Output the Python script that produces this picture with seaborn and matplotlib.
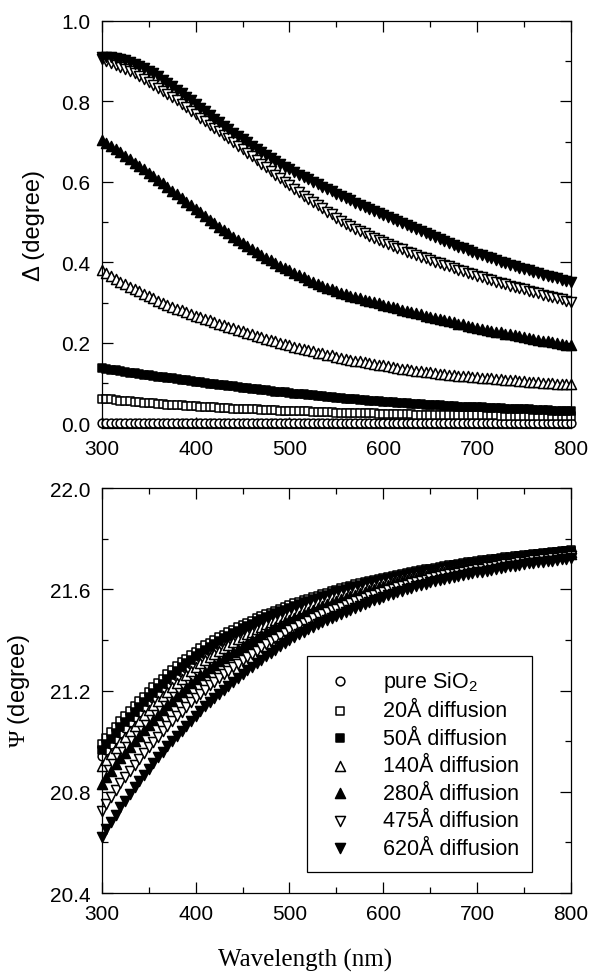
import numpy as np
import pandas as pd
import matplotlib
matplotlib.use("Agg")
import matplotlib.pyplot as plt
from matplotlib.ticker import MultipleLocator, FormatStrFormatter
import seaborn as sns

# wavelength grid of the simulated spectra (nm)
wavelength = np.arange(300, 801, 5)

series_names = ['pure SiO$_{\\mathsf{2}}$', '20Å diffusion', '50Å diffusion', '140Å diffusion',
                '280Å diffusion', '475Å diffusion', '620Å diffusion']

x_ticks = [300, 400, 500, 600, 700, 800]
delta_ticks = [0.0, 0.2, 0.4, 0.6, 0.8, 1.0]
psi_ticks = [20.4, 20.8, 21.2, 21.6, 22.0]

# Delta (degree)
delta_pure = [0.0] * len(wavelength)
delta_20 = [0.062, 0.061, 0.060, 0.058, 0.057, 0.056, 0.055, 0.054, 0.053, 0.052,
            0.051, 0.050, 0.049, 0.048, 0.047, 0.047, 0.046, 0.045, 0.044, 0.044,
            0.043, 0.042, 0.041, 0.041, 0.040, 0.039, 0.039, 0.038, 0.037, 0.037,
            0.036, 0.036, 0.035, 0.035, 0.034, 0.034, 0.033, 0.033, 0.032, 0.032,
            0.031, 0.031, 0.030, 0.030, 0.030, 0.029, 0.029, 0.028, 0.028, 0.028,
            0.027, 0.027, 0.027, 0.026, 0.026, 0.026, 0.025, 0.025, 0.025, 0.024,
            0.024, 0.024, 0.024, 0.023, 0.023, 0.023, 0.023, 0.022, 0.022, 0.022,
            0.022, 0.022, 0.021, 0.021, 0.021, 0.021, 0.021, 0.021, 0.020, 0.020,
            0.020, 0.020, 0.020, 0.020, 0.020, 0.019, 0.019, 0.019, 0.019, 0.019,
            0.019, 0.019, 0.019, 0.019, 0.018, 0.018, 0.018, 0.018, 0.018, 0.018,
            0.018]
delta_50 = [0.137, 0.135, 0.133, 0.132, 0.130, 0.128, 0.126, 0.125, 0.123, 0.121,
            0.120, 0.118, 0.116, 0.115, 0.113, 0.112, 0.110, 0.108, 0.107, 0.105,
            0.104, 0.102, 0.101, 0.099, 0.098, 0.096, 0.095, 0.093, 0.092, 0.090,
            0.089, 0.087, 0.086, 0.085, 0.083, 0.082, 0.081, 0.079, 0.078, 0.077,
            0.076, 0.074, 0.073, 0.072, 0.071, 0.070, 0.068, 0.067, 0.066, 0.065,
            0.064, 0.063, 0.062, 0.061, 0.060, 0.059, 0.058, 0.057, 0.056, 0.055,
            0.054, 0.053, 0.053, 0.052, 0.051, 0.050, 0.049, 0.049, 0.048, 0.047,
            0.046, 0.046, 0.045, 0.044, 0.044, 0.043, 0.042, 0.042, 0.041, 0.041,
            0.040, 0.040, 0.039, 0.039, 0.038, 0.038, 0.037, 0.037, 0.036, 0.036,
            0.035, 0.035, 0.034, 0.034, 0.033, 0.033, 0.032, 0.032, 0.032, 0.031,
            0.031]
delta_140 = [0.380, 0.373, 0.366, 0.359, 0.352, 0.346, 0.340, 0.334, 0.328, 0.322,
             0.316, 0.311, 0.305, 0.300, 0.295, 0.290, 0.285, 0.281, 0.276, 0.272,
             0.268, 0.264, 0.260, 0.256, 0.252, 0.248, 0.244, 0.240, 0.237, 0.233,
             0.230, 0.225, 0.221, 0.218, 0.214, 0.211, 0.207, 0.204, 0.200, 0.197,
             0.194, 0.191, 0.188, 0.185, 0.182, 0.179, 0.176, 0.174, 0.171, 0.169,
             0.166, 0.163, 0.161, 0.158, 0.156, 0.154, 0.152, 0.150, 0.148, 0.146,
             0.144, 0.142, 0.140, 0.138, 0.136, 0.135, 0.133, 0.131, 0.130, 0.128,
             0.127, 0.125, 0.124, 0.123, 0.121, 0.120, 0.119, 0.118, 0.117, 0.116,
             0.115, 0.114, 0.113, 0.112, 0.111, 0.110, 0.109, 0.108, 0.107, 0.106,
             0.105, 0.104, 0.103, 0.102, 0.101, 0.100, 0.100, 0.099, 0.098, 0.098,
             0.097]
delta_280 = [0.705, 0.697, 0.689, 0.681, 0.673, 0.665, 0.657, 0.648, 0.640, 0.631,
             0.623, 0.614, 0.605, 0.596, 0.587, 0.578, 0.569, 0.560, 0.551, 0.542,
             0.533, 0.524, 0.515, 0.506, 0.497, 0.489, 0.480, 0.472, 0.464, 0.456,
             0.448, 0.440, 0.433, 0.426, 0.419, 0.412, 0.405, 0.398, 0.392, 0.386,
             0.380, 0.374, 0.368, 0.363, 0.357, 0.352, 0.347, 0.342, 0.337, 0.333,
             0.329, 0.325, 0.321, 0.317, 0.314, 0.311, 0.307, 0.304, 0.301, 0.298,
             0.295, 0.292, 0.289, 0.286, 0.283, 0.280, 0.277, 0.274, 0.271, 0.268,
             0.265, 0.262, 0.259, 0.257, 0.254, 0.251, 0.248, 0.246, 0.243, 0.240,
             0.238, 0.235, 0.233, 0.230, 0.228, 0.226, 0.223, 0.221, 0.219, 0.217,
             0.214, 0.212, 0.210, 0.208, 0.206, 0.204, 0.202, 0.200, 0.198, 0.196,
             0.194]
delta_475 = [0.905, 0.901, 0.896, 0.891, 0.886, 0.881, 0.875, 0.869, 0.862, 0.855,
             0.848, 0.841, 0.834, 0.826, 0.818, 0.810, 0.802, 0.793, 0.785, 0.776,
             0.768, 0.759, 0.751, 0.742, 0.734, 0.725, 0.717, 0.708, 0.699, 0.690,
             0.681, 0.672, 0.663, 0.654, 0.645, 0.636, 0.627, 0.618, 0.609, 0.600,
             0.591, 0.582, 0.574, 0.566, 0.558, 0.550, 0.542, 0.534, 0.526, 0.519,
             0.510, 0.503, 0.496, 0.490, 0.484, 0.478, 0.472, 0.466, 0.461, 0.456,
             0.451, 0.446, 0.441, 0.436, 0.432, 0.427, 0.423, 0.418, 0.414, 0.410,
             0.406, 0.402, 0.398, 0.394, 0.390, 0.386, 0.382, 0.378, 0.374, 0.371,
             0.367, 0.363, 0.359, 0.356, 0.352, 0.349, 0.346, 0.342, 0.339, 0.336,
             0.333, 0.330, 0.326, 0.323, 0.320, 0.317, 0.314, 0.311, 0.308, 0.305,
             0.302]
delta_620 = [0.910, 0.910, 0.909, 0.907, 0.905, 0.902, 0.898, 0.893, 0.888, 0.882,
             0.876, 0.869, 0.862, 0.854, 0.846, 0.838, 0.829, 0.820, 0.811, 0.802,
             0.793, 0.784, 0.775, 0.766, 0.757, 0.748, 0.739, 0.730, 0.722, 0.714,
             0.706, 0.698, 0.690, 0.682, 0.674, 0.666, 0.659, 0.652, 0.645, 0.638,
             0.631, 0.624, 0.618, 0.612, 0.606, 0.600, 0.594, 0.588, 0.582, 0.576,
             0.570, 0.565, 0.559, 0.554, 0.548, 0.543, 0.537, 0.532, 0.527, 0.522,
             0.517, 0.512, 0.507, 0.502, 0.497, 0.492, 0.487, 0.482, 0.477, 0.472,
             0.467, 0.462, 0.458, 0.453, 0.448, 0.444, 0.439, 0.435, 0.430, 0.426,
             0.422, 0.418, 0.414, 0.410, 0.406, 0.402, 0.398, 0.394, 0.391, 0.387,
             0.383, 0.380, 0.376, 0.373, 0.369, 0.366, 0.363, 0.360, 0.357, 0.354,
             0.351]

# Psi (degree)
psi_pure = [20.940, 20.964, 20.987, 21.010, 21.032, 21.053, 21.074, 21.095, 21.114, 21.134,
            21.154, 21.172, 21.190, 21.208, 21.226, 21.242, 21.259, 21.275, 21.289, 21.304,
            21.319, 21.333, 21.345, 21.357, 21.369, 21.381, 21.392, 21.402, 21.413, 21.423,
            21.433, 21.443, 21.451, 21.461, 21.470, 21.479, 21.487, 21.495, 21.503, 21.511,
            21.518, 21.526, 21.533, 21.540, 21.547, 21.553, 21.560, 21.566, 21.572, 21.579,
            21.585, 21.590, 21.596, 21.601, 21.606, 21.612, 21.617, 21.622, 21.627, 21.631,
            21.636, 21.640, 21.644, 21.649, 21.653, 21.656, 21.660, 21.664, 21.668, 21.671,
            21.675, 21.678, 21.681, 21.684, 21.687, 21.691, 21.694, 21.697, 21.700, 21.702,
            21.705, 21.708, 21.710, 21.713, 21.715, 21.718, 21.721, 21.723, 21.726, 21.728,
            21.730, 21.732, 21.734, 21.736, 21.738, 21.740, 21.742, 21.745, 21.747, 21.749,
            21.751]
psi_20 = [20.990, 21.013, 21.035, 21.057, 21.078, 21.098, 21.118, 21.138, 21.157, 21.176,
          21.195, 21.213, 21.230, 21.247, 21.264, 21.280, 21.296, 21.311, 21.325, 21.339,
          21.353, 21.366, 21.378, 21.389, 21.400, 21.411, 21.421, 21.431, 21.441, 21.450,
          21.459, 21.468, 21.476, 21.485, 21.493, 21.501, 21.508, 21.516, 21.523, 21.530,
          21.537, 21.544, 21.550, 21.557, 21.563, 21.569, 21.575, 21.581, 21.587, 21.593,
          21.599, 21.604, 21.609, 21.614, 21.619, 21.624, 21.629, 21.633, 21.638, 21.642,
          21.646, 21.650, 21.654, 21.658, 21.662, 21.665, 21.669, 21.672, 21.676, 21.679,
          21.682, 21.685, 21.688, 21.691, 21.694, 21.697, 21.700, 21.703, 21.706, 21.708,
          21.711, 21.714, 21.716, 21.719, 21.721, 21.724, 21.726, 21.728, 21.731, 21.733,
          21.735, 21.737, 21.739, 21.741, 21.743, 21.745, 21.747, 21.749, 21.751, 21.753,
          21.755]
psi_50 = [20.964, 20.988, 21.010, 21.033, 21.054, 21.075, 21.095, 21.116, 21.135, 21.154,
          21.174, 21.192, 21.209, 21.227, 21.244, 21.260, 21.277, 21.292, 21.307, 21.321,
          21.335, 21.349, 21.361, 21.373, 21.384, 21.395, 21.406, 21.416, 21.427, 21.436,
          21.445, 21.455, 21.463, 21.473, 21.481, 21.489, 21.497, 21.505, 21.513, 21.520,
          21.527, 21.535, 21.541, 21.548, 21.555, 21.561, 21.567, 21.573, 21.579, 21.586,
          21.592, 21.597, 21.602, 21.607, 21.612, 21.618, 21.623, 21.627, 21.632, 21.636,
          21.641, 21.645, 21.649, 21.653, 21.657, 21.660, 21.665, 21.668, 21.672, 21.675,
          21.678, 21.681, 21.684, 21.687, 21.691, 21.694, 21.697, 21.700, 21.703, 21.705,
          21.708, 21.711, 21.713, 21.716, 21.718, 21.721, 21.723, 21.725, 21.728, 21.730,
          21.732, 21.735, 21.737, 21.739, 21.741, 21.743, 21.745, 21.747, 21.749, 21.751,
          21.753]
psi_140 = [20.901, 20.926, 20.950, 20.974, 20.996, 21.018, 21.040, 21.061, 21.081, 21.102,
           21.122, 21.141, 21.159, 21.178, 21.196, 21.213, 21.230, 21.246, 21.262, 21.277,
           21.292, 21.307, 21.320, 21.333, 21.345, 21.357, 21.369, 21.380, 21.392, 21.402,
           21.412, 21.423, 21.432, 21.443, 21.452, 21.461, 21.470, 21.479, 21.487, 21.496,
           21.504, 21.512, 21.519, 21.527, 21.534, 21.541, 21.548, 21.554, 21.561, 21.568,
           21.574, 21.580, 21.585, 21.591, 21.597, 21.602, 21.608, 21.613, 21.618, 21.623,
           21.628, 21.632, 21.637, 21.641, 21.646, 21.649, 21.654, 21.657, 21.662, 21.665,
           21.669, 21.673, 21.676, 21.679, 21.682, 21.685, 21.689, 21.692, 21.695, 21.697,
           21.700, 21.703, 21.706, 21.709, 21.711, 21.714, 21.717, 21.719, 21.722, 21.724,
           21.726, 21.729, 21.731, 21.733, 21.735, 21.737, 21.739, 21.741, 21.743, 21.745,
           21.747]
psi_280 = [20.831, 20.857, 20.883, 20.908, 20.932, 20.955, 20.977, 21.000, 21.022, 21.043,
           21.064, 21.084, 21.104, 21.123, 21.141, 21.160, 21.178, 21.195, 21.211, 21.228,
           21.244, 21.260, 21.274, 21.288, 21.302, 21.315, 21.327, 21.340, 21.352, 21.364,
           21.376, 21.387, 21.398, 21.409, 21.419, 21.430, 21.440, 21.450, 21.459, 21.469,
           21.478, 21.487, 21.495, 21.503, 21.511, 21.519, 21.526, 21.533, 21.541, 21.547,
           21.554, 21.561, 21.567, 21.573, 21.579, 21.585, 21.591, 21.596, 21.603, 21.608,
           21.613, 21.618, 21.623, 21.628, 21.633, 21.637, 21.642, 21.646, 21.651, 21.654,
           21.659, 21.663, 21.666, 21.669, 21.673, 21.676, 21.680, 21.683, 21.686, 21.689,
           21.692, 21.695, 21.698, 21.701, 21.703, 21.706, 21.709, 21.712, 21.715, 21.717,
           21.720, 21.722, 21.724, 21.726, 21.728, 21.730, 21.732, 21.735, 21.737, 21.739,
           21.741]
psi_475 = [20.724, 20.752, 20.780, 20.807, 20.833, 20.858, 20.883, 20.907, 20.930, 20.953,
           20.975, 20.997, 21.018, 21.039, 21.059, 21.078, 21.098, 21.117, 21.135, 21.153,
           21.171, 21.188, 21.204, 21.220, 21.235, 21.250, 21.264, 21.278, 21.293, 21.306,
           21.319, 21.333, 21.345, 21.358, 21.370, 21.382, 21.394, 21.405, 21.416, 21.427,
           21.438, 21.448, 21.458, 21.467, 21.476, 21.485, 21.493, 21.501, 21.509, 21.517,
           21.524, 21.531, 21.538, 21.546, 21.552, 21.559, 21.566, 21.572, 21.579, 21.585,
           21.591, 21.597, 21.602, 21.608, 21.613, 21.618, 21.624, 21.628, 21.634, 21.638,
           21.643, 21.648, 21.651, 21.655, 21.659, 21.662, 21.666, 21.670, 21.673, 21.676,
           21.679, 21.682, 21.686, 21.689, 21.691, 21.694, 21.698, 21.701, 21.704, 21.706,
           21.709, 21.712, 21.714, 21.717, 21.719, 21.721, 21.723, 21.725, 21.727, 21.729,
           21.731]
psi_620 = [20.620, 20.651, 20.681, 20.710, 20.738, 20.765, 20.791, 20.817, 20.842, 20.866,
           20.890, 20.913, 20.936, 20.958, 20.979, 21.000, 21.021, 21.041, 21.061, 21.081,
           21.100, 21.119, 21.137, 21.154, 21.171, 21.187, 21.203, 21.219, 21.235, 21.250,
           21.265, 21.280, 21.294, 21.309, 21.322, 21.336, 21.349, 21.362, 21.375, 21.387,
           21.399, 21.411, 21.422, 21.432, 21.442, 21.452, 21.461, 21.470, 21.479, 21.487,
           21.495, 21.503, 21.511, 21.519, 21.526, 21.534, 21.541, 21.548, 21.556, 21.563,
           21.570, 21.576, 21.582, 21.588, 21.594, 21.600, 21.606, 21.611, 21.617, 21.622,
           21.628, 21.633, 21.637, 21.641, 21.645, 21.649, 21.653, 21.657, 21.660, 21.664,
           21.667, 21.670, 21.674, 21.677, 21.680, 21.683, 21.687, 21.690, 21.693, 21.696,
           21.699, 21.702, 21.704, 21.707, 21.709, 21.711, 21.713, 21.716, 21.718, 21.720,
           21.722]

delta_all = [delta_pure, delta_20, delta_50, delta_140, delta_280, delta_475, delta_620]
psi_all = [psi_pure, psi_20, psi_50, psi_140, psi_280, psi_475, psi_620]

# marker, filled?, size (pt^2)
marker_styles = [('o', False, 40), ('s', False, 34), ('s', True, 34), ('^', False, 52),
                 ('^', True, 52), ('v', False, 52), ('v', True, 52)]

sns.set_theme(style="ticks", rc={"axes.edgecolor": "black", "xtick.color": "black",
                                 "ytick.color": "black", "text.color": "black",
                                 "axes.labelcolor": "black"})
plt.rcParams['font.family'] = ['Liberation Sans', 'DejaVu Sans']
plt.rcParams['mathtext.fontset'] = 'custom'
plt.rcParams['mathtext.rm'] = 'Liberation Serif'
plt.rcParams['mathtext.it'] = 'Liberation Serif:italic'
plt.rcParams['mathtext.sf'] = 'Liberation Sans'

fig = plt.figure(figsize=(5.89, 9.79), dpi=100)
ax1 = fig.add_axes([0.1727, 0.5623, 0.7968, 0.4155])
ax2 = fig.add_axes([0.1727, 0.0868, 0.7968, 0.4137])

for ax, panel in ((ax1, delta_all), (ax2, psi_all)):
    for name, vals, (mk, filled, size) in zip(series_names, panel, marker_styles):
        df = pd.DataFrame({'wavelength': wavelength, 'value': vals})
        sns.scatterplot(data=df, x='wavelength', y='value', ax=ax, marker=mk, s=size,
                        color='black' if filled else 'white', edgecolor='black',
                        linewidth=1.1, label=name, legend=False, clip_on=False)

for ax in (ax1, ax2):
    ax.set_xlim(300, 800)
    ax.set_xticks(x_ticks)
    ax.xaxis.set_minor_locator(MultipleLocator(50))
    ax.yaxis.set_major_formatter(FormatStrFormatter('%.1f'))
    ax.tick_params(which='both', direction='in', top=True, right=True, width=0.9, labelsize=15)
    ax.tick_params(which='major', length=8, pad=8)
    ax.tick_params(which='minor', length=4)
    for sp in ax.spines.values():
        sp.set_linewidth(0.9)
    ax.set_xlabel('')

ax1.set_ylim(-0.01, 1.0)
ax1.set_yticks(delta_ticks)
ax1.yaxis.set_minor_locator(MultipleLocator(0.1))
ax1.set_ylabel('Δ (degree)', fontsize=17)
ax1.yaxis.set_label_coords(-0.121, 0.5)

ax2.set_ylim(20.4, 22.0)
ax2.set_yticks(psi_ticks)
ax2.yaxis.set_minor_locator(MultipleLocator(0.2))
ax2.set_ylabel(r'$\Psi$ (degree)', fontsize=17)
ax2.yaxis.set_label_coords(-0.1485, 0.5)

handles, labels = ax2.get_legend_handles_labels()
leg = ax2.legend(handles, labels, loc='upper left', bbox_to_anchor=(0.4375, 0.585),
                 borderaxespad=0, fontsize=15.5, frameon=True, fancybox=False,
                 edgecolor='black', framealpha=1, labelspacing=0.3,
                 handlelength=1.86, handletextpad=1.07, borderpad=0.6)
leg.get_frame().set_linewidth(0.9)

fig.text(0.518, 0.0194, 'Wavelength (nm)', family='Liberation Serif', fontsize=18,
         ha='center', va='center')

fig.savefig('out.png', dpi=100)
